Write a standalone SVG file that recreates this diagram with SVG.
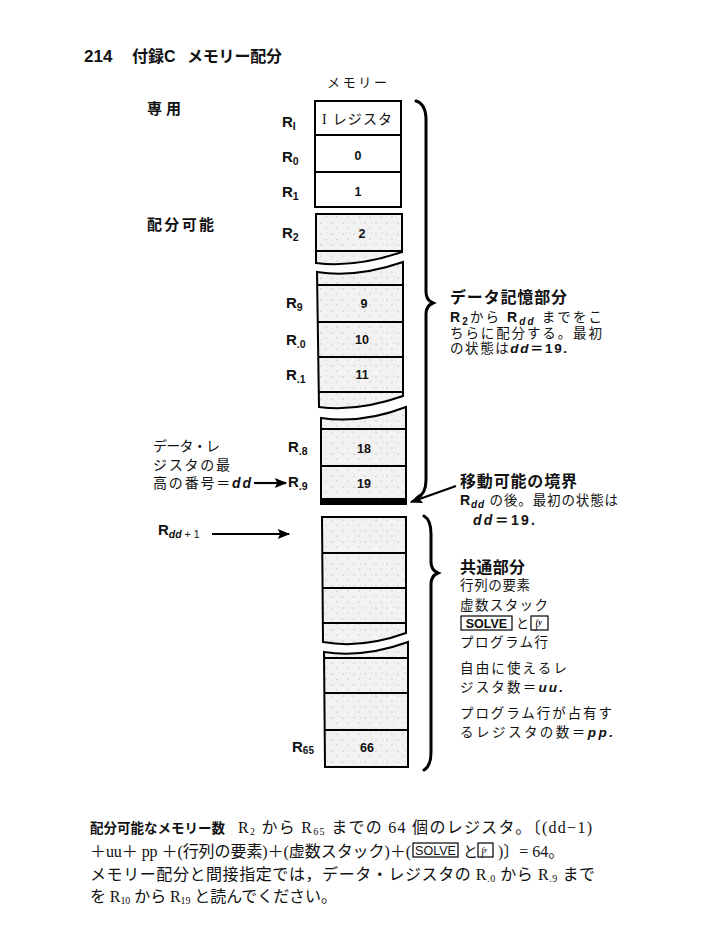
<svg xmlns="http://www.w3.org/2000/svg" width="708" height="935" viewBox="0 0 708 935">
<style>
text{fill:#111}
.g{font-family:"Liberation Sans","Noto Sans CJK JP",sans-serif}
.gb{font-family:"Liberation Sans","Noto Sans CJK JP",sans-serif;font-weight:bold}
.s{font-family:"Liberation Serif","Noto Sans CJK JP",serif}
.rl{font-family:"Liberation Sans",sans-serif;font-weight:bold;font-size:15px}
.num{font-family:"Liberation Sans",sans-serif;font-weight:bold;font-size:12.5px;text-anchor:middle}
.cell{stroke:#000;stroke-width:2;fill:url(#dots)}
.white{stroke:#000;stroke-width:2;fill:#fff}
.div{stroke:#000;stroke-width:2}
.brace{fill:none;stroke:#000;stroke-width:3;stroke-linecap:round}
.arr{stroke:#000;stroke-width:2.2;fill:none;marker-end:url(#ah)}
.key{fill:none;stroke:#000;stroke-width:1.2}
</style>
<defs>
<pattern id="dots" width="11" height="11" patternUnits="userSpaceOnUse">
<rect width="11" height="11" fill="#f2f2f2"/>
<circle cx="2" cy="3" r="0.5" fill="#888"/>
<circle cx="7" cy="8" r="0.5" fill="#999"/>
<circle cx="9" cy="2" r="0.4" fill="#aaa"/>
</pattern>
<marker id="ah" viewBox="0 0 10 8" refX="9" refY="4" markerWidth="17" markerHeight="10" orient="auto" markerUnits="userSpaceOnUse">
<path d="M0,0 L10,4 L0,8 L2,4 Z" fill="#000"/>
</marker>
</defs>

<!-- header -->
<g id="header">
<text class="gb" x="84" y="62" font-size="17">214</text>
<text class="gb" x="132" y="62" font-size="16">付録C</text>
<text class="gb" x="187" y="62" font-size="16" textLength="95" lengthAdjust="spacing">メモリー配分</text>
<text class="g" x="327" y="87" font-size="13" textLength="60" lengthAdjust="spacing">メモリー</text>
</g>

<!-- memory column -->
<g id="mem-top">
<rect class="white" x="315" y="101" width="86" height="106"/>
<line class="div" x1="315" y1="135" x2="401" y2="135"/>
<line class="div" x1="315" y1="172" x2="401" y2="172"/>
<text class="g" x="322" y="124" font-size="14" textLength="70" lengthAdjust="spacing"><tspan class="s">I</tspan> レジスタ</text>
<text class="num" x="358" y="160">0</text>
<text class="num" x="358" y="196">1</text>
</g>
<g id="mem-pieceA">
<path class="cell" d="M316,214 H402 V252 Q355,268 316,263 Z"/>
<line class="div" x1="316" y1="251" x2="402" y2="251"/>
<text class="num" x="362" y="238">2</text>
</g>
<g id="mem-pieceB">
<path class="cell" d="M317,272 Q357,278 403,262 V396 Q358,412 319,407 Z"/>
<line class="div" x1="317" y1="285" x2="403" y2="285"/>
<line class="div" x1="318" y1="322" x2="403" y2="322"/>
<line class="div" x1="318" y1="357" x2="403" y2="357"/>
<line class="div" x1="319" y1="392" x2="403" y2="392"/>
<text class="num" x="364" y="308">9</text>
<text class="num" x="362" y="344">10</text>
<text class="num" x="362" y="379">11</text>
</g>
<g id="mem-pieceC">
<path class="cell" d="M321,418 Q362,424 406,407 V504 H321 Z"/>
<line class="div" x1="321" y1="429" x2="406" y2="429"/>
<line class="div" x1="321" y1="466" x2="406" y2="466"/>
<rect x="321" y="498" width="86" height="6" fill="#000"/>
<text class="num" x="364" y="453">18</text>
<text class="num" x="364" y="488">19</text>
</g>
<g id="mem-pieceD">
<path class="cell" d="M322,517 H406 V633 Q362,649 323,642 Z"/>
<line class="div" x1="322" y1="553" x2="406" y2="553"/>
<line class="div" x1="322" y1="588" x2="406" y2="588"/>
<line class="div" x1="323" y1="623" x2="406" y2="623"/>
</g>
<g id="mem-pieceE">
<path class="cell" d="M324,652 Q364,658 408,642 V767 H325 Z"/>
<line class="div" x1="324" y1="658" x2="408" y2="658"/>
<line class="div" x1="325" y1="693" x2="408" y2="693"/>
<line class="div" x1="325" y1="730" x2="408" y2="730"/>
<text class="num" x="367" y="752">66</text>
</g>

<!-- register labels -->
<g id="reg-labels">
<text class="rl" x="282" y="127">R<tspan font-size="10.5" dy="3">I</tspan></text>
<text class="rl" x="282" y="162">R<tspan font-size="10.5" dy="3">0</tspan></text>
<text class="rl" x="282" y="197">R<tspan font-size="10.5" dy="3">1</tspan></text>
<text class="rl" x="282" y="238">R<tspan font-size="10.5" dy="3">2</tspan></text>
<text class="rl" x="286" y="308">R<tspan font-size="10.5" dy="3">9</tspan></text>
<text class="rl" x="286" y="345">R<tspan font-size="10.5" dy="3">.0</tspan></text>
<text class="rl" x="286" y="380">R<tspan font-size="10.5" dy="3">.1</tspan></text>
<text class="rl" x="288" y="452">R<tspan font-size="10.5" dy="3">.8</tspan></text>
<text class="rl" x="288" y="487">R<tspan font-size="10.5" dy="3">.9</tspan></text>
<text class="rl" x="292" y="752">R<tspan font-size="10" dy="2">65</tspan></text>
<text class="rl" x="158" y="535">R<tspan font-size="10.5" font-style="italic" dy="3">dd</tspan><tspan font-size="10.5" font-weight="normal"> + 1</tspan></text>
</g>

<!-- left labels -->
<g id="left-labels">
<text class="gb" x="147" y="114" font-size="15" textLength="34" lengthAdjust="spacing">専用</text>
<text class="gb" x="147" y="230" font-size="15" textLength="67" lengthAdjust="spacing">配分可能</text>
<text class="g" x="153" y="451" font-size="14" textLength="67" lengthAdjust="spacing">データ・レ</text>
<text class="g" x="153" y="470" font-size="14" textLength="77" lengthAdjust="spacing">ジスタの最</text>
<text class="g" x="153" y="488" font-size="14" textLength="98" lengthAdjust="spacing">高の番号＝<tspan font-weight="bold" font-style="italic">dd</tspan></text>
</g>

<!-- braces and arrows -->
<g id="connectors">
<path class="brace" d="M416,101 Q426,104 426,120 V292 Q426,300 433,303 Q426,306 426,314 V480 Q426,494 417,498"/>
<path class="brace" d="M424,516 Q431,520 431,534 V562 Q431,570 438,573 Q431,576 431,584 V752 Q431,766 424,770"/>
<path class="arr" d="M254,483 H286"/>
<path class="arr" d="M212,534 H289"/>
<path class="arr" d="M456,486 L411,502"/>
</g>

<!-- right annotations -->
<g id="note-data">
<text class="gb" x="450" y="303" font-size="16" textLength="117" lengthAdjust="spacing">データ記憶部分</text>
<text class="g" x="450" y="322" font-size="13.5" textLength="152" lengthAdjust="spacing"><tspan font-weight="bold" font-size="14">R</tspan><tspan font-weight="bold" font-size="10" dy="3">2</tspan><tspan dy="-3">から </tspan><tspan font-weight="bold" font-size="14">R</tspan><tspan font-weight="bold" font-style="italic" font-size="10" dy="3">dd</tspan><tspan dy="-3"> までをこ</tspan></text>
<text class="g" x="450" y="338" font-size="13.5" textLength="152" lengthAdjust="spacing">ちらに配分する。最初</text>
<text class="g" x="450" y="353" font-size="13.5" textLength="117" lengthAdjust="spacing">の状態は<tspan font-weight="bold" font-style="italic">dd</tspan><tspan font-weight="bold">＝19.</tspan></text>
</g>
<g id="note-boundary">
<text class="gb" x="460" y="487" font-size="16" textLength="117" lengthAdjust="spacing">移動可能の境界</text>
<text class="g" x="460" y="505" font-size="13.5" textLength="158" lengthAdjust="spacing"><tspan font-weight="bold" font-size="14">R</tspan><tspan font-weight="bold" font-style="italic" font-size="10" dy="3">dd</tspan><tspan dy="-3"> の後。最初の状態は</tspan></text>
<text class="gb" x="473" y="525" font-size="14" textLength="62" lengthAdjust="spacing"><tspan font-style="italic">dd</tspan>＝19.</text>
</g>
<g id="note-common">
<text class="gb" x="460" y="573" font-size="16" textLength="65" lengthAdjust="spacing">共通部分</text>
<text class="g" x="460" y="590" font-size="13.5" textLength="70" lengthAdjust="spacing">行列の要素</text>
<text class="g" x="460" y="610" font-size="13.5" textLength="88" lengthAdjust="spacing">虚数スタック</text>
<rect class="key" x="461" y="616" width="51" height="14"/>
<text class="gb" x="486.5" y="628" font-size="12.5" text-anchor="middle">SOLVE</text>
<text class="g" x="516" y="628" font-size="13">と</text>
<rect class="key" x="531" y="616" width="17" height="14"/>
<text class="s" x="535" y="628" font-size="12" font-style="italic" font-weight="bold">∫<tspan font-size="8" dy="-3">y</tspan></text>
<text class="g" x="460" y="647" font-size="13.5" textLength="88" lengthAdjust="spacing">プログラム行</text>
<text class="g" x="460" y="673" font-size="13.5" textLength="107" lengthAdjust="spacing">自由に使えるレ</text>
<text class="g" x="460" y="692" font-size="13.5" textLength="103" lengthAdjust="spacing">ジスタ数＝<tspan font-weight="bold" font-style="italic">uu.</tspan></text>
<text class="g" x="460" y="718" font-size="13.5" textLength="152" lengthAdjust="spacing">プログラム行が占有す</text>
<text class="g" x="460" y="737" font-size="13.5" textLength="153" lengthAdjust="spacing">るレジスタの数＝<tspan font-weight="bold" font-style="italic">pp.</tspan></text>
</g>

<!-- bottom paragraph -->
<g id="caption">
<text class="gb" x="90" y="833" font-size="13.5">配分可能なメモリー数</text>
<text class="s" x="238" y="833" font-size="16" textLength="354" lengthAdjust="spacing">R<tspan font-size="10" dy="2">2</tspan><tspan dy="-2"> から R</tspan><tspan font-size="10" dy="2">65</tspan><tspan dy="-2"> までの 64 個のレジスタ。〔(dd−1)</tspan></text>
<text class="s" x="90" y="857" font-size="16" textLength="321" lengthAdjust="spacing">＋uu＋ pp ＋(行列の要素)＋(虚数スタック)＋(</text>
<rect class="key" x="413" y="843" width="45" height="14"/>
<text class="g" x="435.5" y="855" font-size="12.5" text-anchor="middle">SOLVE</text>
<text class="s" x="463" y="857" font-size="15">と</text>
<rect class="key" x="478" y="843" width="15" height="14"/>
<text class="s" x="481" y="855" font-size="11" font-style="italic" font-weight="bold">∫<tspan font-size="7" dy="-3">y</tspan></text>
<text class="s" x="498" y="857" font-size="16">)〕= 64。</text>
<text class="s" x="90" y="880" font-size="16" textLength="505" lengthAdjust="spacing">メモリー配分と間接指定では，データ・レジスタの R<tspan font-size="10" dy="2">.0</tspan><tspan dy="-2"> から R</tspan><tspan font-size="10" dy="2">.9</tspan><tspan dy="-2"> まで</tspan></text>
<text class="s" x="90" y="902" font-size="16" textLength="247" lengthAdjust="spacing">を R<tspan font-size="10" dy="2">10</tspan><tspan dy="-2"> から R</tspan><tspan font-size="10" dy="2">19</tspan><tspan dy="-2"> と読んでください。</tspan></text>
</g>
</svg>
